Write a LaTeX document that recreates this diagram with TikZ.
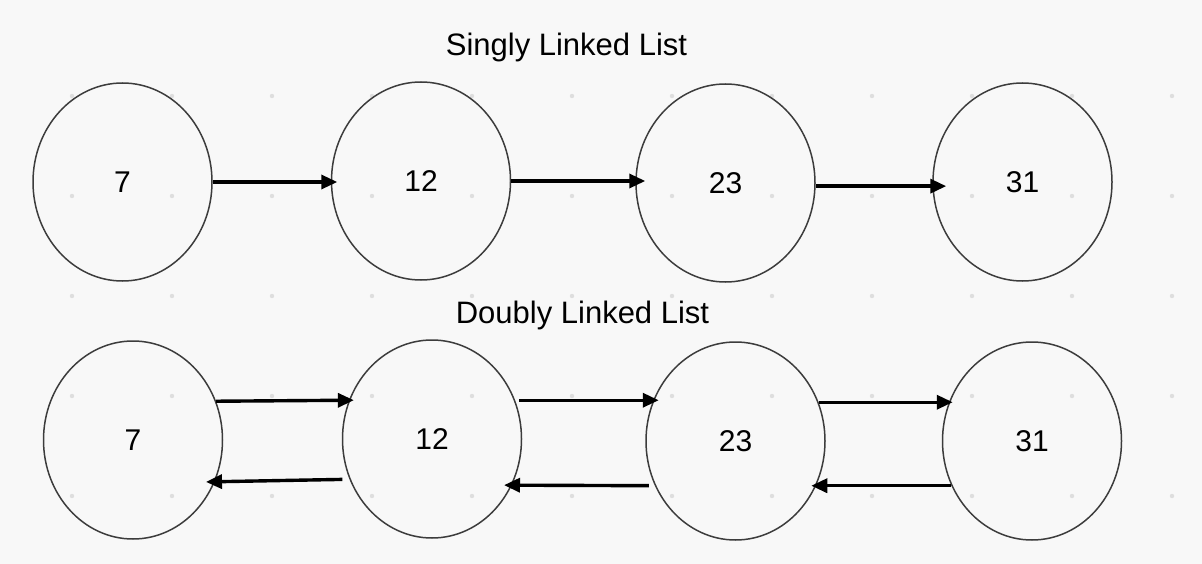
\documentclass[tikz,border=0pt]{standalone}
\usepackage{fontspec}
\setmainfont{Liberation Sans}
\usetikzlibrary{shapes.geometric,arrows.meta}
\definecolor{bgcol}{RGB}{248,248,248}
\definecolor{dotcol}{RGB}{222,222,222}
\definecolor{rimcol}{RGB}{60,60,60}
\tikzset{
  listnode/.style={ellipse, draw=rimcol, line width=1.5pt, minimum width=179pt, minimum height=198pt, inner sep=0pt, font=\fontsize{30}{36}\selectfont},
  title/.style={anchor=base, inner sep=0pt, font=\fontsize{31}{37}\selectfont},
  link/.style={line width=3.4pt, black, -{Triangle[length=16pt,width=14pt]}},
  griddot/.style={fill=dotcol, draw=none}
}
\begin{document}
\begin{tikzpicture}[x=1pt,y=-1pt]
\useasboundingbox (0,0) rectangle (1202,564);
\fill[bgcol] (0,0) rectangle (1202,564);
\foreach \gx in {72,172,...,1172}{
  \foreach \gy in {96,196,296,396,496}{
    \fill[griddot] (\gx,\gy) circle (2.2pt);
  }
}
\node[title] (t1) at (566.5,56) {Singly Linked List};
\node[title] (t2) at (582.5,323) {Doubly Linked List};

\node[listnode] (s1) at (122.5,182) {7};
\node[listnode] (s2) at (421,181) {12};
\node[listnode] (s3) at (725.5,183) {23};
\node[listnode] (s4) at (1022.5,182) {31};

\draw[link, shorten >=-6.5pt] (s1.east) -- (s1.east -| s2.west);
\draw[link, shorten >=-10pt] (s2.east) -- (s2.east -| s3.west);
\draw[link, shorten >=-14pt] (s3.-2) -- (s3.-2 -| s4.west);

\node[listnode] (d1) at (133,440) {7};
\node[listnode] (d2) at (432,439) {12};
\node[listnode] (d3) at (735.5,441) {23};
\node[listnode] (d4) at (1032,441) {31};

\draw[link, shorten >=-5pt] (d1.25) -- (d2.155);
\draw[link, shorten <=4pt, shorten >=-13.5pt] (d2.25) -- (d2.25 -| d3.west);
\draw[link, shorten >=-11pt] (d3.25) -- (d3.25 -| d4.west);

\draw[link, shorten <=7pt, shorten >=-9pt] (d2.206) -- (d1.-27);
\draw[link, shorten <=6pt, shorten >=-8pt] (d3.209) -- (d2.-30);
\draw[link, shorten >=-14.5pt] (d4.209) -- (d4.209 -| d3.east);
\end{tikzpicture}
\end{document}
